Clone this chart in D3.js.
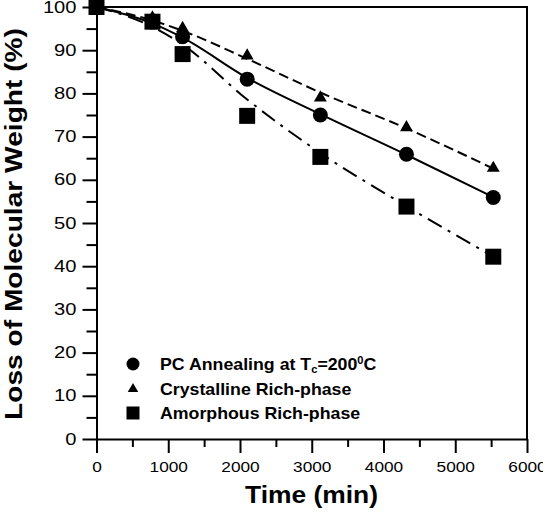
<!DOCTYPE html>
<html>
<head>
<meta charset="utf-8">
<script src="https://cdn.jsdelivr.net/npm/d3@7"></script>
<style>
body { margin: 0; background: #fff; }
svg { display: block; font-family: "Liberation Sans", Arial, sans-serif; }
</style>
</head>
<body>
<svg id="chart" width="543" height="514"></svg>
<script>
// Valeurs.
const times = [0, 780, 1200, 2100, 3120, 4320, 5530];
const pcAnnealing = [100, 96.5, 93.1, 83.3, 75.0, 65.9, 55.9];
const crystalline = [100, 97.5, 95.1, 88.7, 79.0, 72.1, 62.7];
const amorphous = [100, 96.6, 89.1, 74.8, 65.3, 53.8, 42.2];

const pcFit = [100, 96.2, 92.9, 83.6, 75.2, 65.8, 56.0];
const crystallineFit = [100, 96.9, 94.5, 88.0, 80.2, 71.9, 62.6];
const amorphousFit = [100, 95.4, 91.3, 78.6, 66.2, 53.9, 42.2];

const xTicks = [0, 1000, 2000, 3000, 4000, 5000, 6000];
const xMinorTicks = [500, 1500, 2500, 3500, 4500, 5500];
const yTicks = [0, 10, 20, 30, 40, 50, 60, 70, 80, 90, 100];
const yMinorTicks = [5, 15, 25, 35, 45, 55, 65, 75, 85, 95];
const legendLabels = ["PC Annealing at T", "Crystalline Rich-phase", "Amorphous Rich-phase"];

const config = {
    left: 96.5, right: 527, top: 7, bottom: 439,
    majorTick: 14, minorTickX: 8, minorTickY: 10
};

const svg = d3.select("#chart");

const x = d3.scaleLinear().domain([0, 6000]).range([config.left, config.right]);
const y = d3.scaleLinear().domain([0, 100]).range([config.bottom, config.top]);

// Axes principaux.
const xAxis = svg.append("g")
    .attr("transform", "translate(0," + config.bottom + ")")
    .call(d3.axisBottom(x).tickValues(xTicks).tickFormat(d3.format("d"))
        .tickSize(config.majorTick).tickSizeOuter(0).tickPadding(8));
const yAxis = svg.append("g")
    .attr("transform", "translate(" + config.left + ",0)")
    .call(d3.axisLeft(y).tickValues(yTicks).tickFormat(d3.format("d"))
        .tickSize(config.majorTick).tickSizeOuter(0).tickPadding(6));

// Graduations secondaires.
svg.append("g")
    .attr("transform", "translate(0," + config.bottom + ")")
    .call(d3.axisBottom(x).tickValues(xMinorTicks).tickSize(config.minorTickX).tickFormat("").tickSizeOuter(0))
    .select(".domain").remove();
svg.append("g")
    .attr("transform", "translate(" + config.left + ",0)")
    .call(d3.axisLeft(y).tickValues(yMinorTicks).tickSize(config.minorTickY).tickFormat("").tickSizeOuter(0))
    .select(".domain").remove();

svg.selectAll(".domain, .tick line").attr("stroke", "#000").attr("stroke-width", 2);

xAxis.selectAll("text")
    .attr("font-size", 15)
    .attr("fill", "#000")
    .attr("textLength", function(d) { return String(d).length * 9.6; })
    .attr("lengthAdjust", "spacingAndGlyphs");
yAxis.selectAll("text")
    .attr("font-size", 16)
    .attr("fill", "#000")
    .attr("textLength", function(d) { return String(d).length * 11.2; })
    .attr("lengthAdjust", "spacingAndGlyphs");

// Cadre haut et droite.
svg.append("path")
    .attr("d", "M" + config.left + "," + config.top + "H" + config.right + "V" + config.bottom)
    .attr("fill", "none")
    .attr("stroke", "#000")
    .attr("stroke-width", 2);

// Courbes d'ajustement.
const fitLine = d3.line()
    .x(function(d) { return x(d[0]); })
    .y(function(d) { return y(d[1]); })
    .curve(d3.curveMonotoneX);

const fits = [
    { values: pcFit, dash: null },
    { values: crystallineFit, dash: "10,5" },
    { values: amorphousFit, dash: "16,7,3,7" }
];

fits.forEach(function(f) {
    svg.append("path")
        .datum(d3.zip(times, f.values))
        .attr("d", fitLine)
        .attr("fill", "none")
        .attr("stroke", "#000")
        .attr("stroke-width", 2)
        .attr("stroke-dasharray", f.dash);
});

// Symboles.
const circleSym = d3.symbol().type(d3.symbolCircle).size(Math.PI * 7.5 * 7.5);
const triangleSym = d3.symbol().type(d3.symbolTriangle).size(72);
const squareSym = d3.symbol().type(d3.symbolSquare).size(16 * 16);

const series = [
    { values: pcAnnealing, symbol: circleSym },
    { values: crystalline, symbol: triangleSym },
    { values: amorphous, symbol: squareSym }
];

series.forEach(function(s) {
    svg.append("g")
        .selectAll("path")
        .data(d3.zip(times, s.values))
        .enter()
        .append("path")
        .attr("d", s.symbol)
        .attr("fill", "#000")
        .attr("transform", function(d) {
            return "translate(" + x(d[0]) + "," + y(d[1]) + ")";
        });
});

// Legende.
const legendSymbols = [
    d3.symbol().type(d3.symbolCircle).size(Math.PI * 6.5 * 6.5),
    d3.symbol().type(d3.symbolTriangle).size(48),
    d3.symbol().type(d3.symbolSquare).size(13 * 13)
];
const legendY = [364, 389, 413];

legendLabels.forEach(function(label, i) {
    svg.append("path")
        .attr("d", legendSymbols[i])
        .attr("fill", "#000")
        .attr("transform", "translate(133," + legendY[i] + ")");

    const t = svg.append("g")
        .attr("transform", "translate(160," + (legendY[i] + 6) + ") scale(1.11,1)")
        .append("text")
        .attr("font-size", 16)
        .attr("font-weight", "bold")
        .attr("fill", "#000")
        .text(label);

    if (i === 0) {
        t.append("tspan").attr("font-size", 10).attr("dy", 3).text("c");
        t.append("tspan").attr("dy", -3).text("=200");
        t.append("tspan").attr("font-size", 10).attr("dy", -6).text("0");
        t.append("tspan").attr("dy", 6).text("C");
    }
});

// Titres des axes.
svg.append("text")
    .attr("x", 245)
    .attr("y", 503)
    .attr("font-size", 23)
    .attr("font-weight", "bold")
    .attr("textLength", 133)
    .attr("lengthAdjust", "spacingAndGlyphs")
    .text("Time (min)");

svg.append("text")
    .attr("transform", "translate(22,420) rotate(-90)")
    .attr("font-size", 24)
    .attr("font-weight", "bold")
    .attr("textLength", 392)
    .attr("lengthAdjust", "spacingAndGlyphs")
    .text("Loss of Molecular Weight (%)");
</script>
</body>
</html>
